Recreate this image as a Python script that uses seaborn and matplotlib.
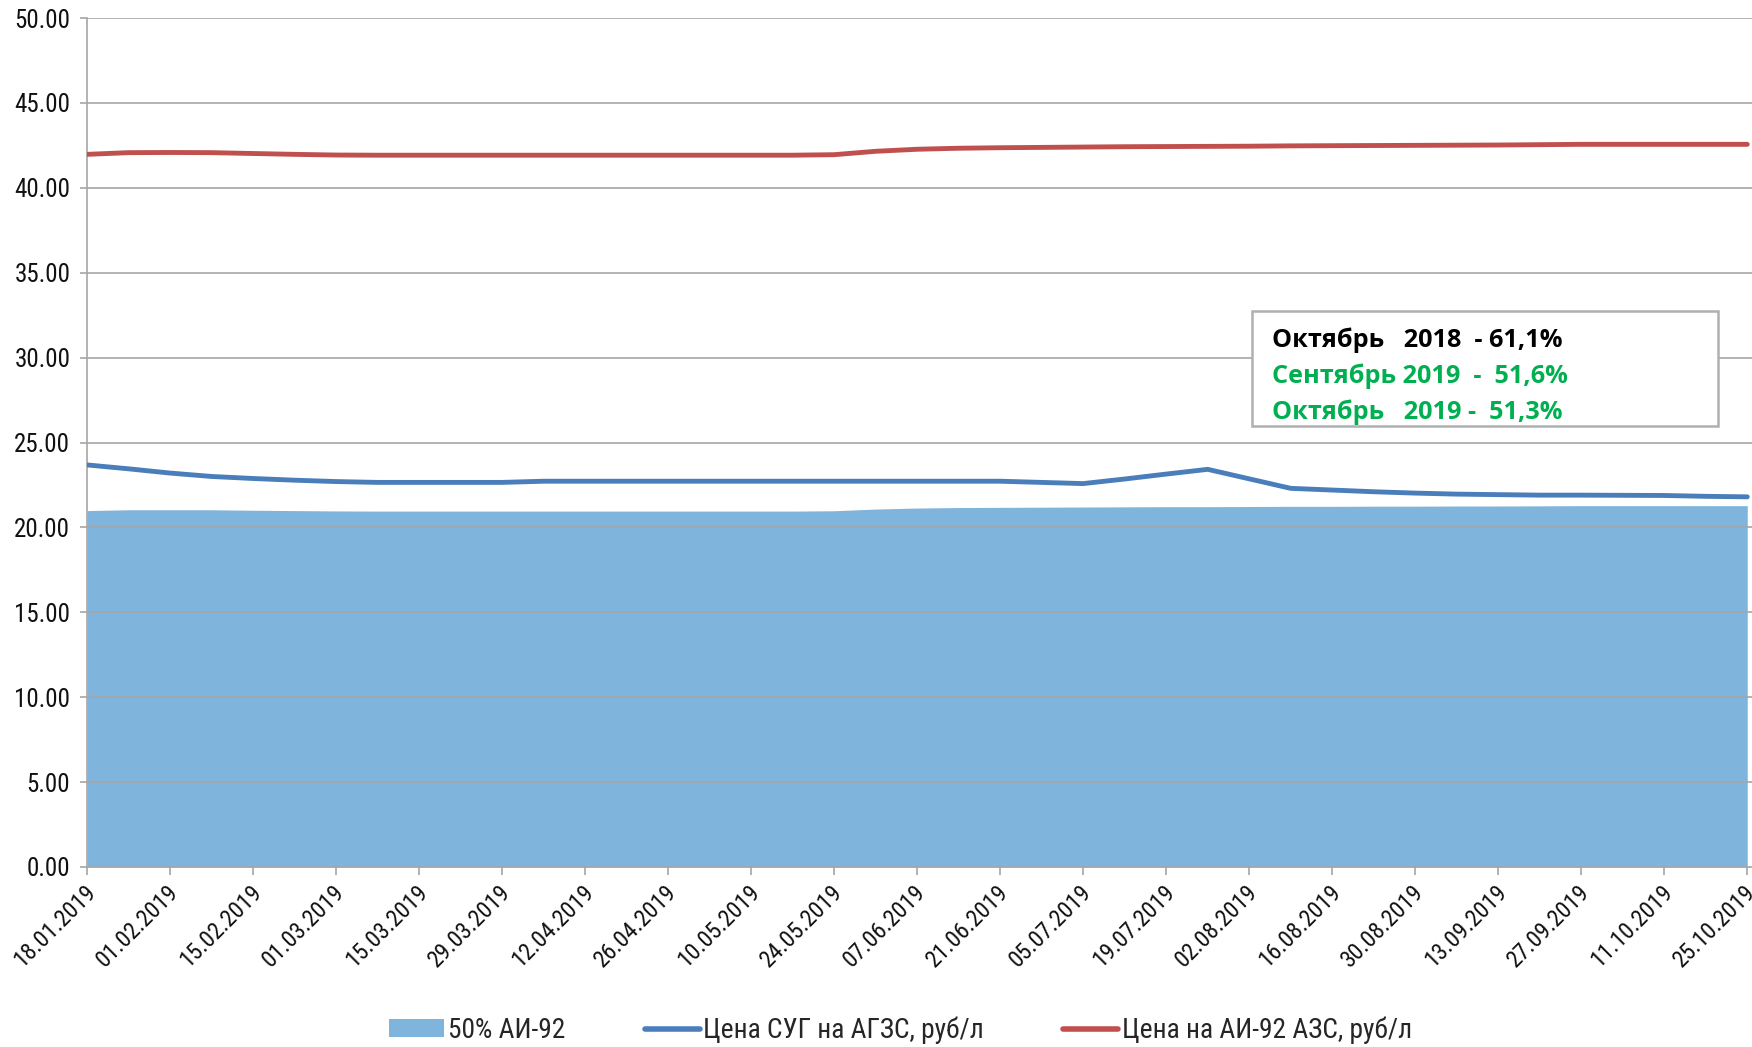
import numpy as np
import pandas as pd
import matplotlib
matplotlib.use("Agg")
import matplotlib.pyplot as plt
import matplotlib.dates as mdates
import matplotlib.transforms as mtransforms
from matplotlib.patches import Patch
from matplotlib.lines import Line2D
import seaborn as sns

# ---------------- data ----------------
start_date = "2019-01-18"
n_weeks = 41
dates = pd.date_range(start_date, periods=n_weeks, freq="7D")

lpg_price = [23.68, 23.45, 23.20, 23.00, 22.88, 22.78, 22.70, 22.65, 22.65, 22.65,
             22.65, 22.72, 22.72, 22.72, 22.72, 22.72, 22.72, 22.72, 22.72, 22.72,
             22.72, 22.72, 22.72, 22.65, 22.58, 22.85, 23.14, 23.42, 22.86, 22.30,
             22.20, 22.10, 22.02, 21.96, 21.93, 21.90, 21.90, 21.89, 21.88, 21.83,
             21.80]

ai92_price = [41.97, 42.07, 42.08, 42.07, 42.02, 41.97, 41.93, 41.92, 41.92, 41.92,
              41.92, 41.92, 41.92, 41.92, 41.92, 41.92, 41.92, 41.92, 41.95, 42.15,
              42.27, 42.33, 42.36, 42.38, 42.40, 42.42, 42.43, 42.44, 42.45, 42.47,
              42.48, 42.49, 42.50, 42.51, 42.52, 42.54, 42.56, 42.56, 42.56, 42.56,
              42.56]

half_ai92 = [20.99, 21.04, 21.04, 21.04, 21.01, 20.99, 20.97, 20.96, 20.96, 20.96,
             20.96, 20.96, 20.96, 20.96, 20.96, 20.96, 20.96, 20.96, 20.98, 21.08,
             21.14, 21.17, 21.18, 21.19, 21.20, 21.21, 21.22, 21.22, 21.23, 21.24,
             21.24, 21.25, 21.25, 21.26, 21.26, 21.27, 21.28, 21.28, 21.28, 21.28,
             21.28]

series_labels = ["50% АИ-92", "Цена СУГ на АГЗС, руб/л", "Цена на АИ-92 АЗС, руб/л"]
y_ticks = [0, 5, 10, 15, 20, 25, 30, 35, 40, 45, 50]
note_lines = ["Октябрь   2018  - 61,1%", "Сентябрь 2019  -  51,6%", "Октябрь   2019 -  51,3%"]

df = pd.DataFrame({"date": dates, "lpg": lpg_price, "ai92": ai92_price, "half": half_ai92})

# ---------------- style ----------------
sns.set_style("white")
plt.rcParams["font.family"] = ["Roboto Condensed", "Liberation Sans Narrow", "Roboto", "DejaVu Sans"]

AREA_C = "#7FB5DC"
BLUE_C = "#4A7EBB"
RED_C = "#C0504D"
GRID_C = "#A6A6A6"
GREEN_C = "#00B050"

W, H = 1752, 1047
fig = plt.figure(figsize=(W / 100, H / 100), dpi=100)
ax = fig.add_axes([87 / W, 1 - 867 / H, (W - 87) / W, (867 - 18) / H])

ax.fill_between(df["date"], 0, df["half"], color=AREA_C, lw=0, zorder=1)
sns.lineplot(data=df, x="date", y="lpg", ax=ax, color=BLUE_C, lw=3.5, zorder=4)
sns.lineplot(data=df, x="date", y="ai92", ax=ax, color=RED_C, lw=3.5, zorder=4)

ax.set_ylim(0, 50)
ax.set_yticks(y_ticks)
ax.yaxis.set_major_formatter(matplotlib.ticker.FormatStrFormatter("%.2f"))
ax.set_xlim(dates[0], dates[-1] + pd.Timedelta(days=0.8))
ax.set_xticks(dates[::2])
ax.xaxis.set_major_formatter(mdates.DateFormatter("%d.%m.%Y"))
ax.set_xlabel("")
ax.set_ylabel("")

for y in y_ticks[1:]:
    ax.axhline(y, color=GRID_C, lw=1.2, zorder=2)

for s in ["top", "right"]:
    ax.spines[s].set_visible(False)
for s in ["left", "bottom"]:
    ax.spines[s].set_color(GRID_C)
    ax.spines[s].set_linewidth(1.2)
    ax.spines[s].set_zorder(3)

ax.tick_params(axis="y", length=5, width=1.2, color=GRID_C, labelsize=18, pad=7,
               labelcolor="#111111", direction="out", left=True)
ax.tick_params(axis="x", length=6, width=1.2, color=GRID_C, labelsize=17, pad=4,
               labelcolor="#111111", direction="out", bottom=True)
shift = mtransforms.ScaledTranslation(-3 / 100, 0, fig.dpi_scale_trans)
for lab in ax.get_xticklabels():
    lab.set_rotation(45)
    lab.set_ha("right")
    lab.set_va("top")
    lab.set_rotation_mode("anchor")
    lab.set_transform(lab.get_transform() + shift)

# annotation box
bx0, by0, bx1, by1 = 1252 / W, 1 - 426 / H, 1718 / W, 1 - 311 / H
fig.patches.append(matplotlib.patches.Rectangle((bx0, by0), bx1 - bx0, by1 - by0,
                   transform=fig.transFigure, facecolor="white", edgecolor="#B0B0B0",
                   lw=1.8, zorder=5))
note_colors = ["black", GREEN_C, GREEN_C]
for i, (t, c) in enumerate(zip(note_lines, note_colors)):
    fig.text(1272 / W, 1 - (340 + i * 36) / H, t, color=c, fontsize=18.2,
             fontweight="bold", family=["Open Sans", "DejaVu Sans"],
             va="center", ha="left", zorder=6)

handles = [Patch(facecolor=AREA_C, edgecolor="none"),
           Line2D([0], [0], color=BLUE_C, lw=4),
           Line2D([0], [0], color=RED_C, lw=4)]
fig.legend(handles, series_labels, loc="center", bbox_to_anchor=(0.514, 1 - 1030 / H),
           ncol=3, frameon=False, fontsize=19.8, handlelength=2.0, handleheight=0.6,
           handletextpad=0.12, columnspacing=2.9)

fig.savefig("out.png", dpi=100)
